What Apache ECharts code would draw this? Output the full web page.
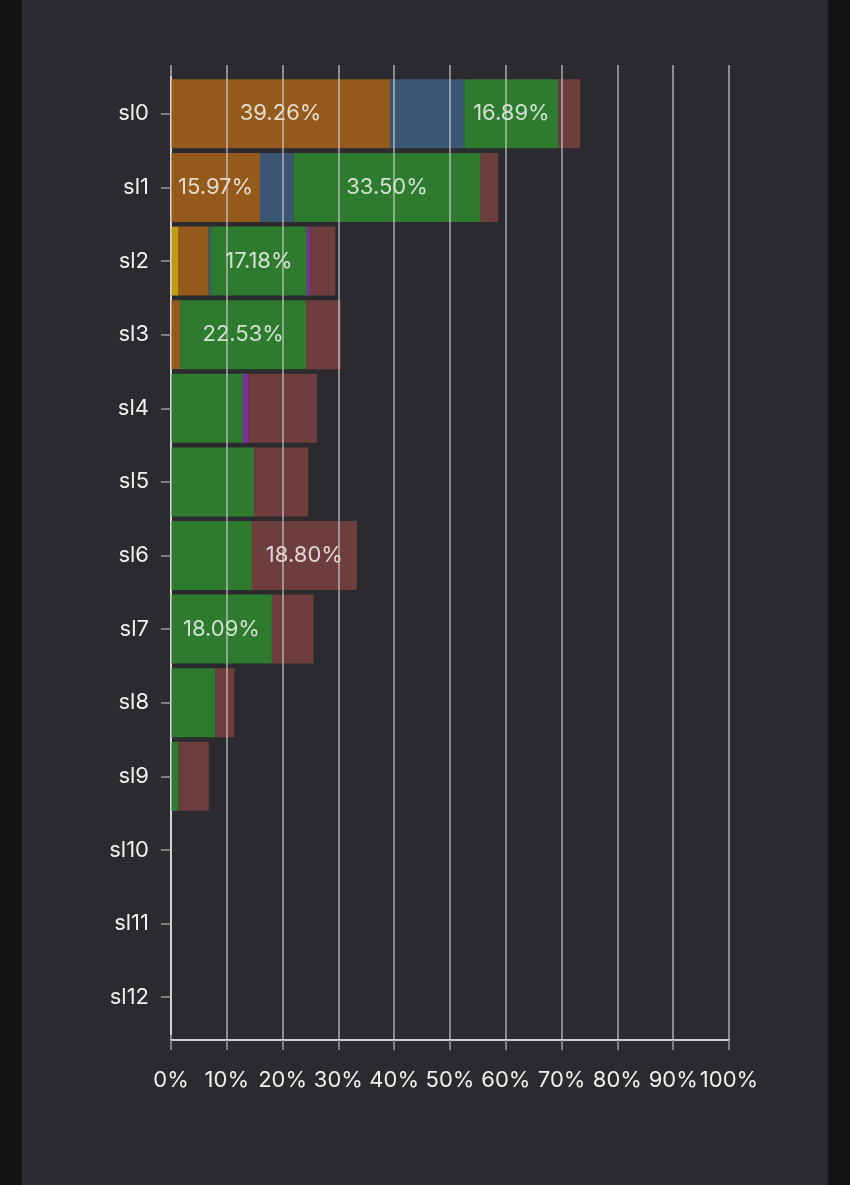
<!DOCTYPE html>
<html>
<head>
<meta charset="utf-8">
<script src="https://cdn.jsdelivr.net/npm/echarts@6/dist/echarts.min.js"></script>
<style>
html,body{margin:0;padding:0;background:#141414;}
#chart{width:850px;height:1185px;}
</style>
</head>
<body>
<div id="chart"></div>
<script>
const categories = ['sl0','sl1','sl2','sl3','sl4','sl5','sl6','sl7','sl8','sl9','sl10','sl11','sl12'];
const xTicks = [0,10,20,30,40,50,60,70,80,90,100];
const yellowVals = [0, 0, 1.37, 0, 0, 0, 0, 0, 0, 0, 0, 0, 0];
const orangeVals = [39.26, 15.97, 5.40, 1.67, 0, 0, 0, 0, 0, 0, 0, 0, 0];
const blueVals   = [13.30, 6.00, 0.40, 0, 0, 0, 0, 0, 0, 0, 0, 0, 0];
const greenVals  = [16.89, 33.50, 17.18, 22.53, 12.90, 14.90, 14.50, 18.09, 7.90, 1.37, 0, 0, 0];
const purpleVals = [0, 0, 0.60, 0, 1.00, 0, 0, 0, 0, 0, 0, 0, 0];
const redVals    = [3.90, 3.16, 4.50, 6.27, 12.25, 9.70, 18.80, 7.45, 3.46, 5.40, 0, 0, 0];

const seriesDefs = [
  {name:'yellow', data:yellowVals, color:'#c39a12'},
  {name:'orange', data:orangeVals, color:'#935a1b'},
  {name:'blue',   data:blueVals,   color:'#3a5673'},
  {name:'green',  data:greenVals,  color:'#2e7a2f'},
  {name:'purple', data:purpleVals, color:'#7a2fa0'},
  {name:'red',    data:redVals,    color:'#6e3e3f'}
];

const FONT = 'Inter, "Noto Sans", sans-serif';
const chart = echarts.init(document.getElementById('chart'), null, {renderer:'canvas'});

const option = {
  backgroundColor: '#2b2a2e',
  animation: false,
  graphic: [
    {type:'rect', left:0, top:0, shape:{x:0,y:0,width:22,height:1185}, style:{fill:'#141414'}, silent:true},
    {type:'rect', left:828, top:0, shape:{x:0,y:0,width:22,height:1185}, style:{fill:'#141414'}, silent:true}
  ],
  grid: [
    {left:171, right:121, top:77, height:957, containLabel:false},
    {left:171, right:121, top:65, height:975, containLabel:false}
  ],
  xAxis: [
    {gridIndex:0, type:'value', min:0, max:100, interval:10, show:false},
    {gridIndex:1, type:'value', min:0, max:100, interval:10, z:5,
      axisLine:{show:true, lineStyle:{color:'#d0d0d0', width:2}},
      axisTick:{show:true, length:10, lineStyle:{color:'#9a9a9a', width:1.5}},
      axisLabel:{color:'#f0f0f0', fontSize:22, fontFamily:FONT, margin:29,
        formatter: v => v + '%'},
      splitLine:{show:true, lineStyle:{color:'rgba(215,215,215,0.75)', width:1.5}}
    }
  ],
  yAxis: [
    {gridIndex:0, type:'category', data:categories, inverse:true,
      axisLine:{show:true, lineStyle:{color:'#d0d0d0', width:2}},
      axisTick:{show:true, alignWithLabel:true, length:10, lineStyle:{color:'#9a9a9a', width:1.5}},
      axisLabel:{color:'#f0f0f0', fontSize:22, fontFamily:FONT, margin:22},
      splitLine:{show:false}
    },
    {gridIndex:1, type:'value', show:false, min:0, max:1}
  ],
  series: seriesDefs.map(s => ({
    name: s.name,
    type: 'bar',
    stack: 'total',
    xAxisIndex: 0,
    yAxisIndex: 0,
    barWidth: 69,
    data: s.data,
    itemStyle: {color: s.color},
    label: {
      show: true,
      position: 'inside',
      color: 'rgba(255,255,255,0.78)',
      fontSize: 22,
      fontFamily: FONT,
      formatter: p => (p.value >= 15 ? p.value.toFixed(2) + '%' : '')
    }
  }))
};
chart.setOption(option);
</script>
</body>
</html>
